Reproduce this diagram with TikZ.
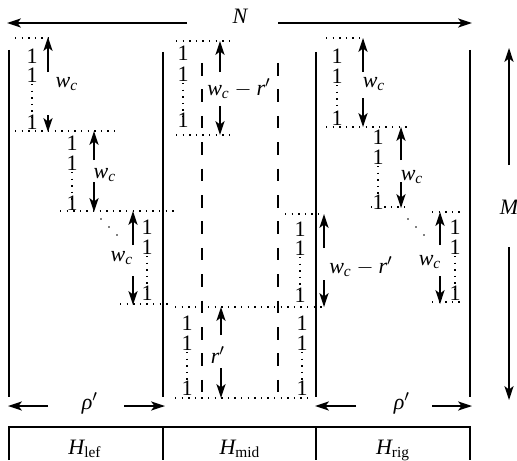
\documentclass[tikz,border=0pt]{standalone}
\usepackage{amsmath}
\usepackage{fontspec}
\setmainfont{Liberation Serif}
\usetikzlibrary{arrows.meta}
\tikzset{
  arr/.style={line width=0.7pt,-{Stealth[length=7pt,width=4.6pt,inset=1.8pt]}},
  wall/.style={line width=0.55pt},
  dotl/.style={line width=0.7pt,dash pattern=on 0.7pt off 2.6pt},
  dashl/.style={line width=0.7pt,dash pattern=on 6.3pt off 6.9pt},
  one/.style={inner sep=0pt,font=\fontsize{11}{13}\selectfont},
  lab/.style={inner sep=0pt,font=\fontsize{11}{13}\selectfont},
}
\newcommand\mi[1]{\textit{#1}}
\newcommand\wcl{$\mi{w}_{\mi{c}}$}
\newcommand\wcr{$\mi{w}_{\mi{c}} - \mi{r}'$}
\newcommand\vdimarrow[6]{%
  \coordinate (#1t) at (#2,#3);
  \coordinate (#1u) at (#2,#4);
  \coordinate (#1d) at (#2,#5);
  \coordinate (#1b) at (#2,#6);
  \draw[arr] (#1u) -- (#1t);
  \draw[arr] (#1d) -- (#1b);}
\newcommand\onescolumn[5]{%
  \coordinate (#1p) at (#2,#4+9);
  \coordinate (#1q) at (#2,#5-3);
  \draw[dotl] (#1p) -- (#1q);
  \node[one] (#1a) at (#2,#3) {1};
  \node[one] (#1b) at (#2,#4) {1};
  \node[one] (#1c) at (#2,#5) {1};}
\newcommand\dotrow[4]{%
  \coordinate (#1l) at (#2,#4);
  \coordinate (#1r) at (#3,#4);
  \draw[dotl] (#1l) -- (#1r);}
\begin{document}
\begin{tikzpicture}[x=0.5pt,y=-0.5pt]
\useasboundingbox (0,0) rectangle (517,460);

% walls
\coordinate (w1t) at (9,50);  \coordinate (w1b) at (9,397);
\coordinate (w2t) at (163,52); \coordinate (w2b) at (163,397);
\coordinate (w3t) at (316,52); \coordinate (w3b) at (316,397);
\coordinate (w4t) at (470,50); \coordinate (w4b) at (470,397);
\draw[wall] (w1t) -- (w1b);
\draw[wall] (w2t) -- (w2b);
\draw[wall] (w3t) -- (w3b);
\draw[wall] (w4t) -- (w4b);

% dashed
\coordinate (d1t) at (202,63); \coordinate (d1b) at (202,398);
\coordinate (d2t) at (278,63); \coordinate (d2b) at (278,398);
\draw[dashl] (d1t) -- (d1b);
\draw[dashl] (d2t) -- (d2b);

% N
\node[lab] (N) at (240,16) {$\mi{N}$};
\coordinate (Nls) at (187,23); \coordinate (Nl) at (7,23);
\coordinate (Nrs) at (278,23); \coordinate (Nr) at (472,23);
\draw[arr] (Nls) -- (Nl);
\draw[arr] (Nrs) -- (Nr);

% M
\node[lab] (M) at (509,207) {$\mi{M}$};
\coordinate (Mt) at (509,48); \coordinate (Mts) at (509,165);
\coordinate (Mbs) at (509,247); \coordinate (Mb) at (509,400);
\draw[arr] (Mts) -- (Mt);
\draw[arr] (Mbs) -- (Mb);

% rho
\node[lab] (rho1) at (90,403) {$\mi{ρ}'$};
\coordinate (r1a) at (48,406); \coordinate (r1b) at (8,406);
\coordinate (r1c) at (124,406); \coordinate (r1d) at (165,406);
\draw[arr] (r1a) -- (r1b);
\draw[arr] (r1c) -- (r1d);
\node[lab] (rho2) at (402,403) {$\mi{ρ}'$};
\coordinate (r2a) at (356,406); \coordinate (r2b) at (315,406);
\coordinate (r2c) at (432,406); \coordinate (r2d) at (472,406);
\draw[arr] (r2a) -- (r2b);
\draw[arr] (r2c) -- (r2d);

% table
\coordinate (t1) at (9,460); \coordinate (t2) at (9,427);
\coordinate (t3) at (470,427); \coordinate (t4) at (470,460);
\coordinate (t5) at (163,427); \coordinate (t6) at (163,460);
\coordinate (t7) at (316,427); \coordinate (t8) at (316,460);
\draw[wall] (t1) -- (t2) -- (t3) -- (t4);
\draw[wall] (t5) -- (t6);
\draw[wall] (t7) -- (t8);
\node[lab,anchor=base] (Hl) at (85,454) {$\mi{H}_{\textrm{lef}}$};
\node[lab,anchor=base] (Hm) at (240,454) {$\mi{H}_{\textrm{mid}}$};
\node[lab,anchor=base] (Hr) at (393,454) {$\mi{H}_{\textrm{rig}}$};

% left staircase
\dotrow{L1top}{15}{50}{38}
\onescolumn{L1}{32}{56}{75}{122}
\vdimarrow{L1a}{48}{37}{72}{115}{132}
\node[lab] (L1w) at (67,84) {\wcl};
\dotrow{L1bot}{15}{115}{131}

\onescolumn{L2}{72}{143}{163}{203}
\vdimarrow{L2a}{94}{131}{160}{182}{212}
\node[lab] (L2w) at (105,175) {\wcl};
\dotrow{L2bot}{60}{175}{211}

\onescolumn{L3}{147}{227}{247}{293}
\vdimarrow{L3a}{133}{211}{245}{276}{305}
\node[lab] (L3w) at (122,258) {\wcl};
\foreach \px/\py in {101/219,109/227,117/235} \fill (\px,\py) circle (0.45pt);
\dotrow{L3bot}{120}{168}{304}

% middle top
\dotrow{M1top}{176}{230}{41}
\onescolumn{M1}{183}{53}{74}{120}
\vdimarrow{M1a}{220}{41}{72}{106}{135}
\node[lab] (M1w) at (239,89) {\wcr};
\dotrow{M1bot}{176}{230}{135}

% middle right
\dotrow{MRtop}{285}{323}{214}
\onescolumn{MR}{300}{229}{248}{295}
\vdimarrow{MRa}{324}{214}{248}{280}{307}
\node[lab] (MRw) at (361,267) {\wcr};
\dotrow{MRbot}{175}{324}{307}

% middle bottom
\onescolumn{MBl}{187}{323}{343}{388}
\onescolumn{MBr}{302}{323}{343}{388}
\vdimarrow{MBa}{221}{307}{335}{368}{398}
\node[lab] (MBw) at (218,355) {$\mi{r}'$};
\dotrow{MBbot}{175}{313}{398}

% right staircase
\dotrow{R1top}{326}{363}{38}
\onescolumn{R1}{337}{56}{76}{118}
\vdimarrow{R1a}{363}{38}{72}{98}{127}
\node[lab] (R1w) at (374,84) {\wcl};
\dotrow{R1bot}{326}{407}{127}

\onescolumn{R2}{378}{137}{157}{202}
\vdimarrow{R2a}{401}{127}{160}{182}{208}
\node[lab] (R2w) at (412,177) {\wcl};
\dotrow{R2bot}{371}{407}{207}

\dotrow{R3top}{432}{460}{212}
\onescolumn{R3}{455}{227}{247}{293}
\vdimarrow{R3a}{440}{212}{245}{276}{304}
\node[lab] (R3w) at (430,262) {\wcl};
\foreach \px/\py in {408/219,416/227,424/235} \fill (\px,\py) circle (0.45pt);
\dotrow{R3bot}{432}{460}{302}
\end{tikzpicture}
\end{document}
